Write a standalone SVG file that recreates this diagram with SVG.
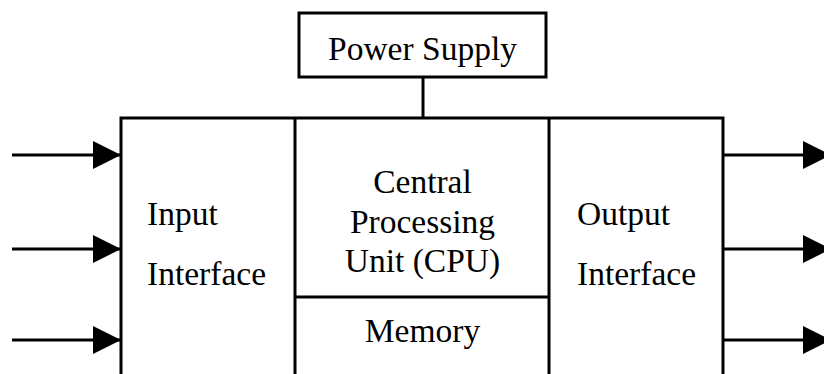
<svg xmlns="http://www.w3.org/2000/svg" width="824" height="374" viewBox="0 0 824 374">
<style>
.box{fill:none;stroke:#000;stroke-width:3}
.ln{stroke:#000;stroke-width:3;fill:none}
.t{font-family:"Liberation Serif","Times New Roman",serif;font-size:33.5px;fill:#000}
.c{text-anchor:middle}
</style>
<defs>
<marker id="ah" markerUnits="userSpaceOnUse" markerWidth="28" markerHeight="28" refX="27" refY="14" orient="auto">
<path d="M0,0 L28,14 L0,28 Z" fill="#000"/>
</marker>
</defs>
<rect x="0" y="0" width="824" height="374" fill="#fff"/>
<g id="power-supply">
<rect class="box" x="299" y="13" width="247" height="64"/>
<text class="t c" x="422.5" y="60">Power Supply</text>
</g>
<g id="main-frame">
<rect class="box" x="121" y="118" width="602" height="270"/>
</g>
<g id="input-interface">
<line class="ln" x1="295" y1="118" x2="295" y2="380"/>
<text class="t" x="147" y="225">Input</text>
<text class="t" x="147" y="285">Interface</text>
</g>
<g id="cpu">
<line class="ln" x1="549" y1="118" x2="549" y2="380"/>
<text class="t c" x="422.5" y="193">Central</text>
<text class="t c" x="422.5" y="233">Processing</text>
<text class="t c" x="422.5" y="272">Unit (CPU)</text>
</g>
<g id="memory">
<line class="ln" x1="295" y1="297" x2="549" y2="297"/>
<text class="t c" x="422.5" y="342">Memory</text>
</g>
<g id="output-interface">
<text class="t" x="577" y="225">Output</text>
<text class="t" x="577" y="285">Interface</text>
</g>
<g id="connectors">
<line class="ln" x1="423" y1="77" x2="423" y2="118"/>
<line class="ln" x1="12" y1="155" x2="120" y2="155" marker-end="url(#ah)"/>
<line class="ln" x1="12" y1="249" x2="120" y2="249" marker-end="url(#ah)"/>
<line class="ln" x1="12" y1="340" x2="120" y2="340" marker-end="url(#ah)"/>
<line class="ln" x1="723" y1="155" x2="830" y2="155" marker-end="url(#ah)"/>
<line class="ln" x1="723" y1="249" x2="830" y2="249" marker-end="url(#ah)"/>
<line class="ln" x1="723" y1="340" x2="830" y2="340" marker-end="url(#ah)"/>
</g>
</svg>
